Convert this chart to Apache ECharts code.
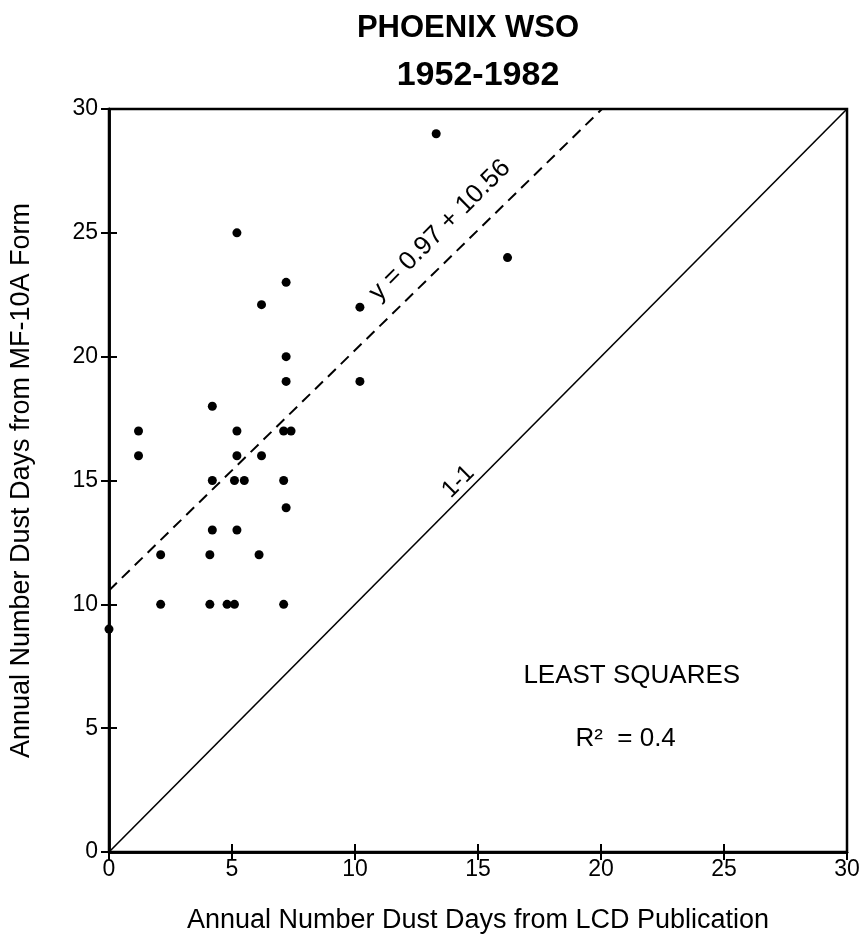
<!DOCTYPE html>
<html><head><meta charset="utf-8">
<script src="https://cdn.jsdelivr.net/npm/echarts@6/dist/echarts.min.js"></script>
<style>html,body{margin:0;padding:0;background:#fff}#c{width:867px;height:943px}</style>
</head><body><div id="c"></div>
<script>
// Data
const lcdDays = [5.2, 7.2, 6.2, 7.2, 7.2, 4.2, 1.2, 5.2, 7.1, 7.4, 1.2, 5.2, 6.2, 4.2, 5.1, 5.5, 7.1, 7.2, 4.2, 5.2, 2.1, 4.1, 6.1, 2.1, 4.1, 4.8, 5.1, 7.1, 0.0, 13.3, 10.2, 16.2, 10.2];
const mfDays  = [25, 23, 22.1, 20, 19, 18, 17, 17, 17, 17, 16, 16, 16, 15, 15, 15, 15, 13.9, 13, 13, 12, 12, 12, 10, 10, 10, 10, 10, 9, 29, 22, 24, 19];
const regSlope = 0.97, regIntercept = 10.56;
const regX = [0, (30 - regIntercept) / regSlope];
const oneToOne = [0, 30];
const xTicks = [0, 5, 10, 15, 20, 25, 30];
const yTicks = [0, 5, 10, 15, 20, 25, 30];

const font = "'Liberation Sans', Arial, sans-serif";
const chart = echarts.init(document.getElementById('c'), null, {renderer: 'canvas'});
const axisCommon = {
  type: 'value', min: 0, max: 30, interval: 5,
  splitLine: {show: false},
  axisLine: {show: true, onZero: false, lineStyle: {color: '#000', width: 2.5}},
};
chart.setOption({
  animation: false,
  backgroundColor: '#fff',
  grid: {left: 109, right: 20, top: 109, bottom: 91, containLabel: false, outerBoundsMode: 'none', show: true, borderColor: '#000', borderWidth: 2.5, backgroundColor: 'transparent'},
  xAxis: [
    Object.assign({}, axisCommon, {
      position: 'bottom',
      axisTick: {show: true, inside: false, length: 8, lineStyle: {color: '#000', width: 2}},
      axisLabel: {color: '#000', fontSize: 23, fontFamily: font, margin: 6},
      name: 'Annual Number Dust Days from LCD Publication',
      nameLocation: 'middle', nameGap: 55,
      nameTextStyle: {color: '#000', fontSize: 27, fontFamily: font}
    }),
    Object.assign({}, axisCommon, {
      position: 'bottom',
      axisTick: {show: true, inside: true, length: 8, lineStyle: {color: '#000', width: 2}},
      axisLabel: {show: false}
    })
  ],
  yAxis: [
    Object.assign({}, axisCommon, {
      position: 'left',
      axisTick: {show: true, inside: false, length: 8, lineStyle: {color: '#000', width: 2}},
      axisLabel: {color: '#000', fontSize: 23, fontFamily: font, margin: 11},
      name: 'Annual Number Dust Days from MF-10A Form',
      nameLocation: 'middle', nameGap: 74, nameRotate: 90,
      nameTextStyle: {color: '#000', fontSize: 27, fontFamily: font}
    }),
    Object.assign({}, axisCommon, {
      position: 'left',
      axisTick: {show: true, inside: true, length: 8, lineStyle: {color: '#000', width: 2}},
      axisLabel: {show: false}
    })
  ],
  series: [
    {type: 'line', data: oneToOne.map(v => [v, v]), symbol: 'none', lineStyle: {color: '#000', width: 1.6}, z: 1},
    {type: 'line', data: regX.map(x => [x, regSlope * x + regIntercept]), symbol: 'none', lineStyle: {color: '#000', width: 2, type: [11, 7]}, z: 1},
    {type: 'scatter', data: lcdDays.map((x, i) => [x, mfDays[i]]), symbol: 'circle', symbolSize: 9, itemStyle: {color: '#000', opacity: 1}, z: 3}
  ]
});

function px(x, y) { return chart.convertToPixel({xAxisIndex: 0, yAxisIndex: 0}, [x, y]); }
const p1 = px(13.45, 25.1), p2 = px(14.2, 14.95), p3 = px(21.25, 7.1), p4 = px(21.0, 4.55);
const deg = Math.PI / 180;
const titleFont = "bold 31px 'Liberation Sans', sans-serif";
chart.setOption({
  graphic: [
    {type: 'text', x: 468, y: 28, style: {text: 'PHOENIX WSO', font: titleFont, fill: '#000', align: 'center', verticalAlign: 'middle'}},
    {type: 'text', x: 478, y: 76, style: {text: '1952-1982', font: "bold 34px 'Liberation Sans', sans-serif", fill: '#000', align: 'center', verticalAlign: 'middle'}},
    {type: 'text', x: p1[0], y: p1[1], rotation: 45 * deg, style: {text: 'y = 0.97 + 10.56', font: "26px " + font, fill: '#000', align: 'center', verticalAlign: 'middle'}},
    {type: 'text', x: p2[0], y: p2[1], rotation: 45 * deg, style: {text: '1-1', font: "24px " + font, fill: '#000', align: 'center', verticalAlign: 'middle'}},
    {type: 'text', x: p3[0], y: p3[1], style: {text: 'LEAST SQUARES', font: "26px " + font, fill: '#000', align: 'center', verticalAlign: 'middle'}},
    {type: 'text', x: p4[0], y: p4[1], style: {text: 'R²  = 0.4', font: "26px " + font, fill: '#000', align: 'center', verticalAlign: 'middle'}}
  ]
});
</script></body></html>
